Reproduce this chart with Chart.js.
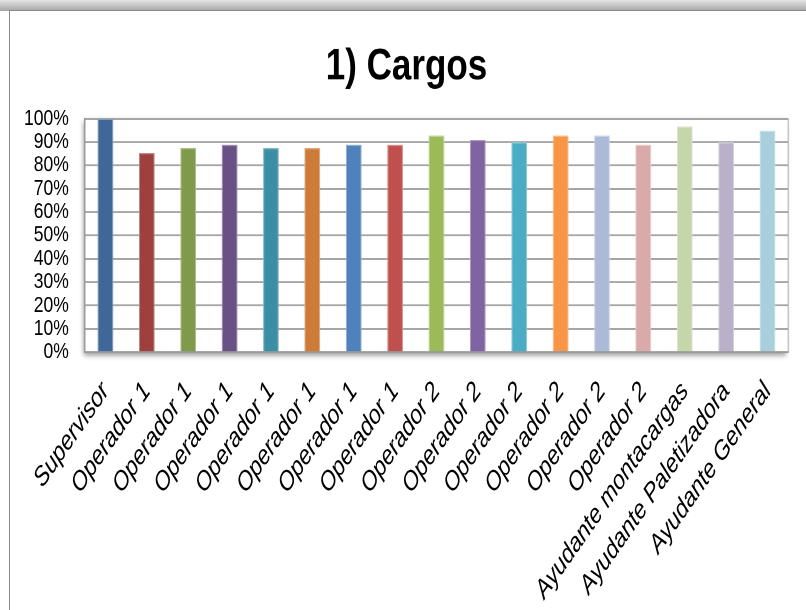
<!DOCTYPE html>
<html>
<head>
<meta charset="utf-8">
<script src="https://cdn.jsdelivr.net/npm/chart.js@4.4.0/dist/chart.umd.min.js"></script>
<style>
  html, body { margin: 0; padding: 0; background: #fff; }
  body { width: 806px; height: 610px; overflow: hidden; position: relative; }
  .top-shade { position: absolute; left: 0; top: 0; width: 806px; height: 11px; background: linear-gradient(#e4e4e4, #a4a4a4); }
  .frame { position: absolute; left: 9px; top: 10px; width: 900px; height: 700px; border-left: 1.5px solid #8a8a8a; border-top: 1.5px solid #8a8a8a; background: #fff; }
  /* the original picture is stretched vertically, so the chart is drawn short and scaled up */
  #wrap { position: absolute; left: 0; top: 0; width: 806px; height: 488px; transform: scaleY(1.25); transform-origin: 0 0; }
</style>
</head>
<body>
<div class="top-shade"></div>
<div class="frame"></div>
<div id="wrap"><canvas id="chart"></canvas></div>
<script>
// DATA
const categories = [
  "Supervisor",
  "Operador 1", "Operador 1", "Operador 1", "Operador 1", "Operador 1", "Operador 1", "Operador 1",
  "Operador 2", "Operador 2", "Operador 2", "Operador 2", "Operador 2", "Operador 2",
  "Ayudante montacargas", "Ayudante Paletizadora", "Ayudante General"
];
const values = [1.00, 0.853, 0.875, 0.889, 0.875, 0.875, 0.889, 0.889, 0.929, 0.909, 0.90, 0.929, 0.929, 0.889, 0.967, 0.90, 0.95];
const yTicks = [0, 0.1, 0.2, 0.3, 0.4, 0.5, 0.6, 0.7, 0.8, 0.9, 1.0];

const barColors = [
  "#3f6899", "#9e413e", "#7f9a48", "#695185", "#3b8fa4", "#cd7b38",
  "#4f81bd", "#c0504d", "#9bbb59", "#8064a2", "#4bacc6", "#f79646",
  "#aabad7", "#d9aaa9", "#c6d6ac", "#bab0c9", "#a9cedc"
];

const FONT = "'Liberation Sans', Arial, sans-serif";

// lighter outline like the original bars
const lighten = (hex, k) => {
  const n = parseInt(hex.slice(1), 16);
  const c = [n >> 16, (n >> 8) & 255, n & 255].map(v => Math.round(v + (255 - v) * k));
  return `rgb(${c[0]},${c[1]},${c[2]})`;
};

// PLOT AREA SHADOW
const plotShadow = {
  id: "plotShadow",
  beforeDraw(chart) {
    const { ctx, chartArea: a } = chart;
    ctx.save();
    ctx.shadowColor = "rgba(0,0,0,0.45)";
    ctx.shadowBlur = 9;
    ctx.shadowOffsetX = -3;
    ctx.shadowOffsetY = 4;
    ctx.fillStyle = "#fff";
    ctx.fillRect(a.left, a.top, a.right - a.left, a.bottom - a.top);
    ctx.restore();
    ctx.save();
    ctx.strokeStyle = "#b0b0b0";
    ctx.lineWidth = 1;
    ctx.strokeRect(a.left, a.top, a.right - a.left, a.bottom - a.top);
    ctx.restore();
  }
};

new Chart(document.getElementById("chart"), {
  type: "bar",
  data: {
    labels: categories,
    datasets: [{
      data: values,
      backgroundColor: barColors,
      borderColor: barColors.map(c => lighten(c, 0.35)),
      borderWidth: 1,
      categoryPercentage: 1,
      barPercentage: 0.38
    }]
  },
  options: {
    responsive: true,
    maintainAspectRatio: false,
    animation: false,
    devicePixelRatio: 2,
    layout: { padding: { left: 8, right: 1, top: 23, bottom: 0 } },
    plugins: {
      legend: { display: false },
      tooltip: { enabled: false },
      title: {
        display: true,
        text: "1) Cargos",
        color: "#000",
        font: { family: FONT, size: 35, weight: "bold" },
        padding: { top: 10, bottom: 20 }
      }
    },
    scales: {
      x: {
        grid: { display: false, drawTicks: false },
        border: { color: "#9a9a9a", width: 1.5 },
        afterFit: scale => { scale.height -= 15.5; },
        ticks: {
          color: "#000",
          font: { family: FONT, size: 21.5, style: "italic" },
          minRotation: 49,
          maxRotation: 49,
          autoSkip: false,
          padding: 19
        }
      },
      y: {
        min: 0,
        max: 1,
        afterBuildTicks: scale => { scale.ticks = yTicks.map(v => ({ value: v })); },
        grid: { color: "#a6a6a6", lineWidth: 1.5, drawTicks: false },
        border: { color: "#9a9a9a", width: 1.5 },
        ticks: {
          color: "#000",
          font: { family: FONT, size: 17.5 },
          padding: 16,
          autoSkip: false,
          callback: v => Math.round(v * 100) + "%"
        }
      }
    }
  },
  plugins: [plotShadow]
});
</script>
</body>
</html>
